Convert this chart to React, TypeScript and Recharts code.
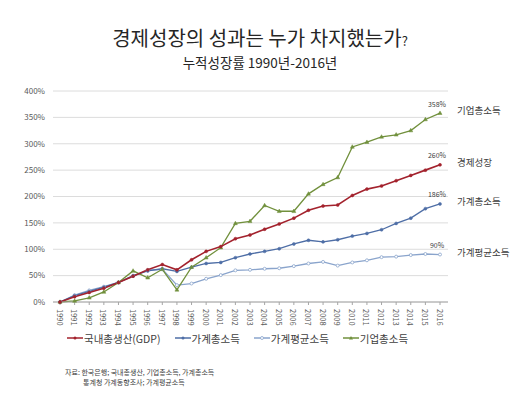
import React from 'react';
import { LineChart, Line, XAxis, YAxis, CartesianGrid, Legend, LabelList } from 'recharts';

const years = ['1990','1991','1992','1993','1994','1995','1996','1997','1998','1999','2000','2001','2002','2003','2004','2005','2006','2007','2008','2009','2010','2011','2012','2013','2014','2015','2016'];
const gdp = [0, 10, 18, 26, 37, 49, 61, 71, 61, 80, 96, 105, 120, 127, 138, 148, 159, 174, 182, 184, 202, 214, 220, 230, 240, 250, 260];
const hhTotal = [0, 12, 20, 28, 37, 50, 59, 63, 58, 66, 73, 75, 84, 91, 96, 101, 110, 117, 114, 118, 125, 130, 137, 149, 159, 177, 186];
const hhAvg = [0, 13, 22, 29, 37, 49, 60, 62, 32, 35, 44, 51, 60, 61, 63, 64, 68, 73, 76, 69, 75, 79, 85, 86, 89, 91, 90];
const corp = [0, 2, 8, 19, 37, 59, 46, 62, 23, 66, 84, 103, 149, 153, 183, 172, 172, 205, 223, 236, 294, 303, 313, 317, 325, 346, 358];
const yTicks = [0, 50, 100, 150, 200, 250, 300, 350, 400];

const legendNames = ['국내총생산(GDP)', '가계총소득', '가계평균소득', '기업총소득'];
const endNames = ['경제성장', '가계총소득', '가계평균소득', '기업총소득'];

const data = years.map((y, i) => ({ year: y, gdp: gdp[i], hhTotal: hhTotal[i], hhAvg: hhAvg[i], corp: corp[i] }));

const FONT = "'Noto Sans CJK KR', 'Noto Sans', sans-serif";
const COLORS = { gdp: '#a3222d', hhTotal: '#4e6ea6', hhAvg: '#8aa4cc', corp: '#71903c' };
const last = years.length - 1;

const Triangle = (props: any) => {
  const { cx, cy, stroke } = props;
  if (cx == null || cy == null) return null;
  return <path d={`M${cx},${cy - 2.2} L${cx + 2},${cy + 1.3} L${cx - 2},${cy + 1.3} Z`} fill={stroke} stroke={stroke} strokeWidth={0.5} />;
};

const makeEndLabel = (name: string) => (props: any) => {
  const { x, y, index, value } = props;
  if (index !== last) return null;
  return (
    <g>
      <text x={x - 3} y={y - 6.5} textAnchor="middle" fontSize={7} fill="#404040" fontFamily={FONT}>{`${value}%`}</text>
      <text x={x + 17} y={y + 1} fontSize={9.5} fill="#404040" fontFamily={FONT}>{name}</text>
    </g>
  );
};

const XTick = (props: any) => {
  const { x, y, payload } = props;
  return (
    <text x={x} y={y + 2} transform={`rotate(90 ${x} ${y + 2})`} textAnchor="start" dominantBaseline="central" fontSize={7.5} fill="#595959" fontFamily={FONT}>
      {payload.value}
    </text>
  );
};

const legendItems = [
  { name: legendNames[0], color: COLORS.gdp, marker: 'dot' },
  { name: legendNames[1], color: COLORS.hhTotal, marker: 'dot' },
  { name: legendNames[2], color: COLORS.hhAvg, marker: 'open' },
  { name: legendNames[3], color: COLORS.corp, marker: 'tri' },
];

const LegendContent = () => (
  <div style={{ display: 'flex', alignItems: 'center', paddingLeft: 67, fontFamily: FONT, fontSize: 10.5, color: '#404040', whiteSpace: 'nowrap', height: 14 }}>
    {legendItems.map((it) => (
      <div key={it.name} style={{ display: 'flex', alignItems: 'center', marginRight: 14 }}>
        <svg width={16} height={8} style={{ marginRight: 1 }}>
          <line x1={0} y1={4} x2={16} y2={4} stroke={it.color} strokeWidth={1.5} />
          {it.marker === 'dot' && <circle cx={8} cy={4} r={1.5} fill={it.color} />}
          {it.marker === 'open' && <circle cx={8} cy={4} r={1.5} fill="#fff" stroke={it.color} strokeWidth={0.8} />}
          {it.marker === 'tri' && <path d="M8,2 L10,5.5 L6,5.5 Z" fill={it.color} />}
        </svg>
        <span>{it.name}</span>
      </div>
    ))}
  </div>
);

export default function App() {
  return (
    <div style={{ position: 'absolute', left: 0, top: 0, width: 526, height: 394, background: '#fff', fontFamily: FONT }}>
      <div style={{ position: 'absolute', top: 27, left: 0, width: 526, height: 22, textAlign: 'center', fontSize: 20, color: '#262626', lineHeight: '22px' }}>
        <span style={{ position: 'relative', left: -3 }}>경제성장의 성과는 누가 차지했는가<span style={{ fontSize: 13 }}>?</span></span>
      </div>
      <div style={{ position: 'absolute', top: 54, left: 0, width: 526, height: 16, textAlign: 'center', fontSize: 13.5, color: '#262626', lineHeight: '16px' }}>
        <span style={{ position: 'relative', left: -3 }}>누적성장률 1990년-2016년</span>
      </div>
      <LineChart width={526} height={394} data={data} margin={{ top: 91, right: 78, left: 0, bottom: 48 }}>
        <CartesianGrid horizontal vertical={false} stroke="#dcdcdc" />
        <XAxis dataKey="year" interval={0} height={30} padding={{ left: 7, right: 8 }} tick={<XTick />} tickLine={{ stroke: '#a6a6a6' }} tickSize={3} axisLine={{ stroke: '#a6a6a6' }} />
        <YAxis width={53} domain={[0, 400]} ticks={yTicks} tickFormatter={(v: number) => `${v}%`} axisLine={false} tickLine={false} tick={{ fontSize: 8, fill: '#595959', fontFamily: FONT }} />
        <Legend verticalAlign="bottom" wrapperStyle={{ position: 'absolute', top: 331, left: 0, width: 526 }} content={<LegendContent />} />
        <Line type="linear" dataKey="hhAvg" name={legendNames[2]} stroke={COLORS.hhAvg} strokeWidth={1.3} dot={{ r: 1.5, fill: '#fff', stroke: COLORS.hhAvg, strokeWidth: 0.8 }} isAnimationActive={false}>
          <LabelList dataKey="hhAvg" content={makeEndLabel(endNames[2])} />
        </Line>
        <Line type="linear" dataKey="hhTotal" name={legendNames[1]} stroke={COLORS.hhTotal} strokeWidth={1.3} dot={{ r: 1.5, fill: COLORS.hhTotal, stroke: COLORS.hhTotal, strokeWidth: 0.5 }} isAnimationActive={false}>
          <LabelList dataKey="hhTotal" content={makeEndLabel(endNames[1])} />
        </Line>
        <Line type="linear" dataKey="corp" name={legendNames[3]} stroke={COLORS.corp} strokeWidth={1.3} dot={<Triangle />} isAnimationActive={false}>
          <LabelList dataKey="corp" content={makeEndLabel(endNames[3])} />
        </Line>
        <Line type="linear" dataKey="gdp" name={legendNames[0]} stroke={COLORS.gdp} strokeWidth={1.6} dot={{ r: 1.5, fill: COLORS.gdp, stroke: COLORS.gdp, strokeWidth: 0.5 }} isAnimationActive={false}>
          <LabelList dataKey="gdp" content={makeEndLabel(endNames[0])} />
        </Line>
      </LineChart>
      <div style={{ position: 'absolute', top: 367, left: 65, fontSize: 7, color: '#404040', lineHeight: '10px' }}>
        <div>자료: 한국은행; 국내총생산, 기업총소득, 가계총소득</div>
        <div style={{ paddingLeft: 18 }}>통계청 가계동향조사; 가계평균소득</div>
      </div>
    </div>
  );
}
